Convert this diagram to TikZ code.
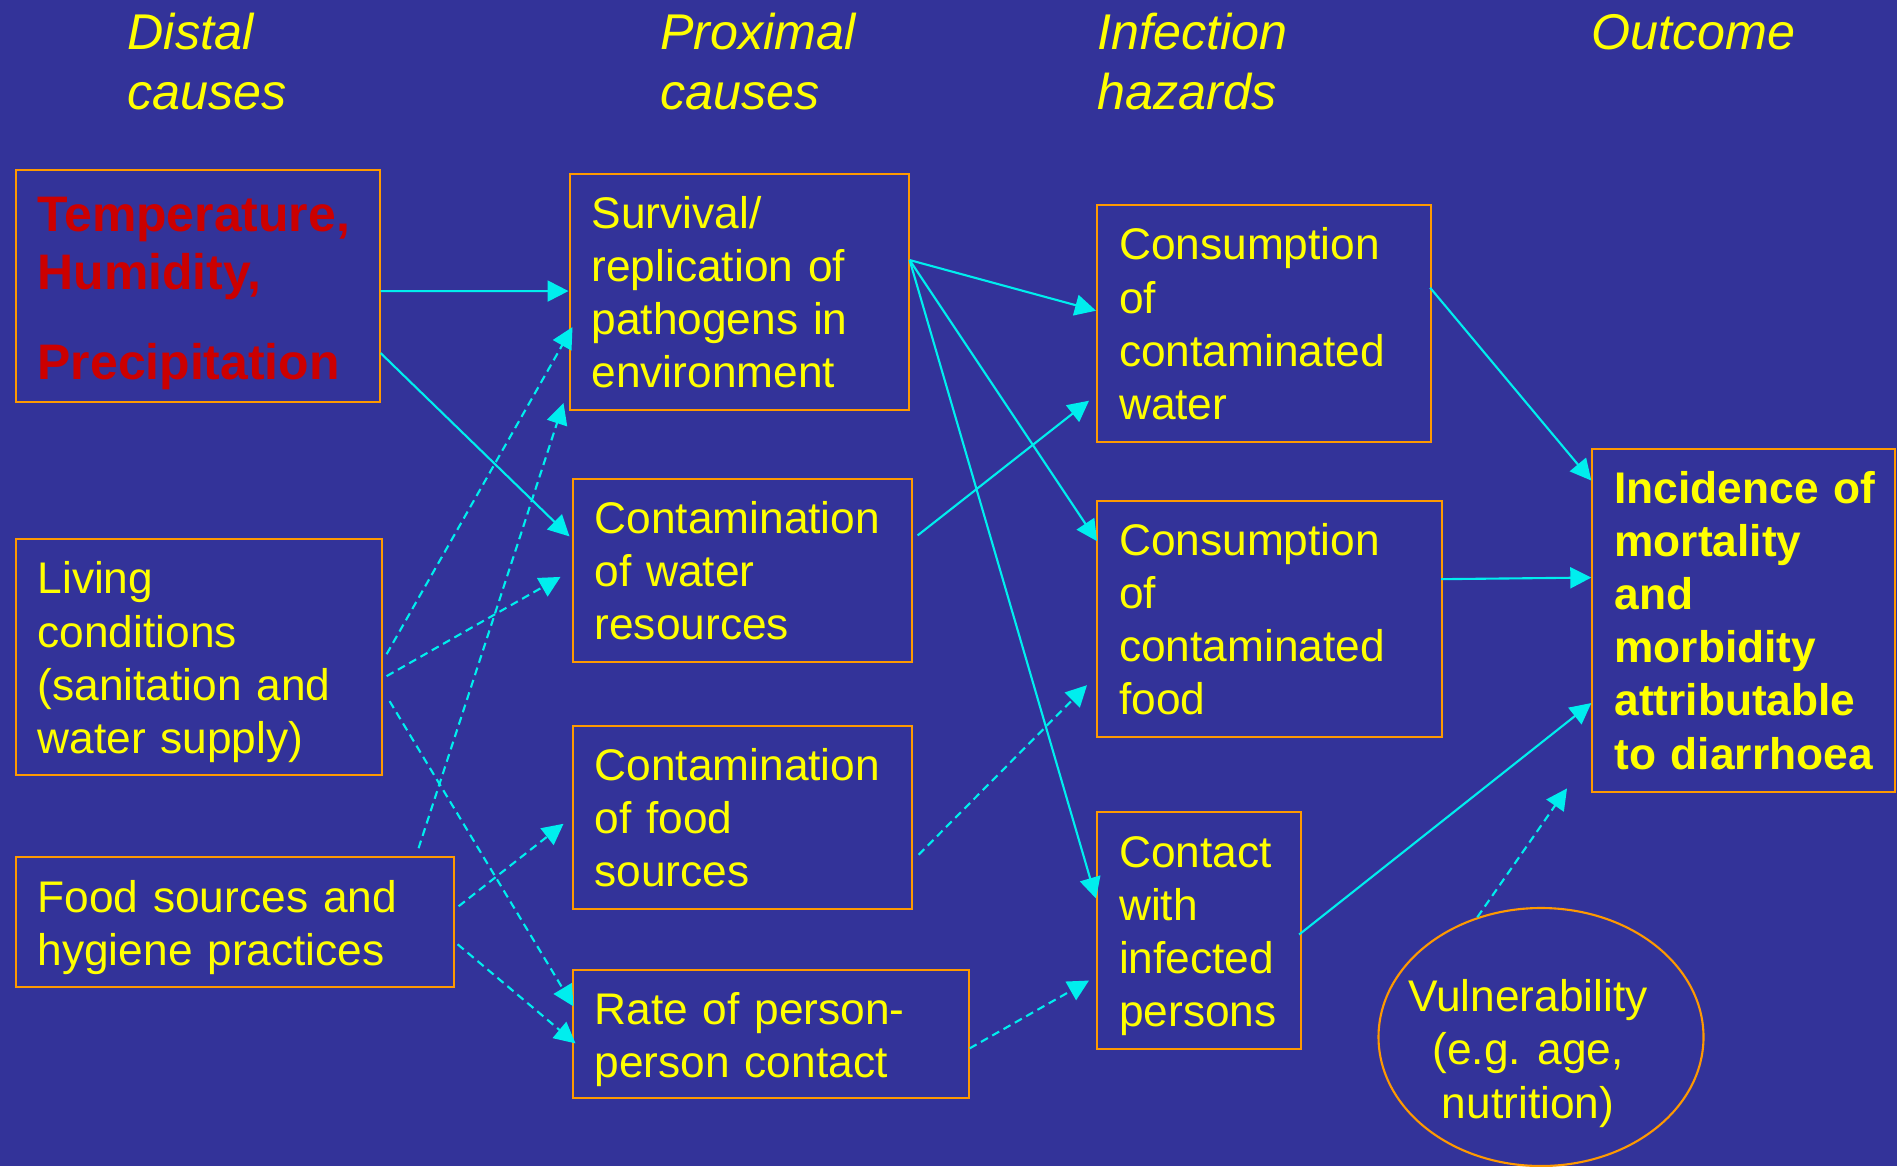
\documentclass[tikz,border=0pt]{standalone}
\usepackage{fontspec}
\setmainfont{Liberation Sans}
\usepackage{tikz}
\usetikzlibrary{shapes.geometric,positioning,arrows.meta}
\definecolor{bgblue}{RGB}{51,51,153}
\definecolor{boxorange}{RGB}{255,153,0}
\definecolor{linecyan}{RGB}{0,238,238}
\definecolor{txtyellow}{RGB}{255,255,0}
\definecolor{txtred}{RGB}{204,0,0}
\newcommand{\firstline}{\rule{0pt}{0.42cm}}
\tikzset{
 b/.style
  = {rectangle, draw=boxorange, line width=0.6pt, inner xsep=0.22cm, inner ysep=0pt,
     align=left, text=txtyellow, font=\fontsize{12.6pt}{15.1pt}\selectfont},
 bb/.style
  = {b, font=\fontsize{12.6pt}{15.1pt}\selectfont\bfseries},
 hd/.style
  = {anchor=base west, inner sep=0pt, align=left, text=txtyellow,
     font=\fontsize{14.3pt}{17pt}\selectfont\itshape},
 o/.style
  = {ellipse, draw=boxorange, line width=0.6pt, minimum width=3.25cm,
     minimum height=2.58cm, inner sep=0pt},
 ot/.style
  = {align=center, inner sep=0pt, text=txtyellow, font=\fontsize{12.6pt}{15.1pt}\selectfont},
 l/.style
  = {draw=linecyan, line width=0.6pt, -{Triangle[length=0.21cm,width=0.21cm]}},
 ll/.style
  = {l, dash pattern=on 0.08cm off 0.05cm},
}
\begin{document}
\begin{tikzpicture}
    \fill [bgblue] (0,0) rectangle (18.97,-11.66);
    \useasboundingbox (0,0) rectangle (18.97,-11.66);

    \node [hd] (distal) at (1.27,-1.09) {Distal\\causes};
    \node [hd] (proximal) at (6.593,-1.09) {Proximal\\causes};
    \node [hd] (infection) at (10.97,-1.09) {Infection\\hazards};
    \node [hd] (outcome) at (15.91,-0.493) {Outcome};

    \node [bb, text=txtred, font=\fontsize{14.2pt}{16.6pt}\selectfont\bfseries, text width=3.2cm,
           minimum height=2.32cm, anchor=north west] (temp) at (0.145,-1.69)
          {\rule{0pt}{0.49cm}Temperature,\\Humidity,\\[0.32cm]Precipitation};
    \node [b, text width=3.22cm, minimum height=2.36cm, below=1.35cm of temp.south west,
           anchor=north west] (living) {\firstline Living\\conditions\\(sanitation and\\water supply)};
    \node [b, text width=3.94cm, minimum height=1.30cm, below=0.80cm of living.south west,
           anchor=north west] (foodsrc) {\firstline Food sources and\\hygiene practices};

    \node [b, text width=2.95cm, minimum height=2.36cm, anchor=north west] (survival)
          at (5.685,-1.73) {Survival/\\replication of\\pathogens in\\environment};
    \node [b, text width=2.95cm, minimum height=1.825cm, below=0.67cm of survival.south west,
           anchor=north west, xshift=0.03cm] (contwater) {Contamination\\of water\\resources};
    \node [b, text width=2.95cm, minimum height=1.83cm, below=0.62cm of contwater.south west,
           anchor=north west] (contfood) {Contamination\\of food\\sources};
    \node [b, text width=3.52cm, minimum height=1.28cm, below=0.595cm of contfood.south west,
           anchor=north west] (rate) {\firstline Rate of person-\\person contact};

    \node [b, text width=2.90cm, minimum height=2.367cm, anchor=north west] (conswater)
          at (10.96,-2.043) {Consumption\\of\\contaminated\\water};
    \node [b, text width=3.01cm, minimum height=2.36cm, below=0.57cm of conswater.south west,
           anchor=north west] (consfood) {Consumption\\of\\contaminated\\food};
    \node [b, text width=1.60cm, minimum height=2.365cm, below=0.73cm of consfood.south west,
           anchor=north west] (contact) {\firstline Contact\\with\\infected\\persons};

    \node [bb, text width=2.59cm, minimum height=3.43cm, anchor=north west] (incidence)
          at (15.913,-4.48)
          {\mbox{Incidence of}\\mortality\\and\\morbidity\\attributable\\\mbox{to diarrhoea}};

    \node [o] (vuln) at (15.41,-10.37) {};
    \node [ot] (vulntext) at ([xshift=-0.13cm,yshift=-0.165cm]vuln.center)
          {Vulnerability\\(e.g. age,\\nutrition)};
    \coordinate (vulntip) at (15.67,-7.884);

    \path [l] ([yshift=-0.05cm]temp.east) -- ([yshift=0.01cm]survival.west);
    \path [l] ([yshift=-0.67cm]temp.east) -- ([xshift=-0.02cm,yshift=0.34cm]contwater.west);
    \path [ll] ([xshift=0.04cm,yshift=0.03cm]living.east) -- ([xshift=0.04cm,yshift=-0.35cm]survival.west);
    \path [ll] ([xshift=1.84cm,yshift=0.08cm]foodsrc.north) -- ([xshift=-0.05cm,yshift=0.08cm]survival.south west);
    \path [ll] ([xshift=0.04cm,yshift=-0.19cm]living.east) -- ([xshift=-0.11cm,yshift=-0.065cm]contwater.west);
    \path [ll] ([xshift=0.07cm,yshift=-0.44cm]living.east) -- ([xshift=0.02cm,yshift=0.28cm]rate.west);
    \path [ll] ([xshift=0.04cm,yshift=0.16cm]foodsrc.east) -- ([xshift=-0.08cm,yshift=-0.065cm]contfood.west);
    \path [ll] ([xshift=0.03cm,yshift=-0.22cm]foodsrc.east) -- ([xshift=0.04cm,yshift=-0.09cm]rate.west);
    \path [l] ([yshift=0.32cm]survival.east) -- ([yshift=0.13cm]conswater.west);
    \path [l] ([yshift=0.32cm]survival.east) -- ([xshift=0.01cm,yshift=0.78cm]consfood.west);
    \path [l] ([yshift=0.32cm]survival.east) -- ([yshift=0.32cm]contact.west);
    \path [l] ([xshift=0.05cm,yshift=0.35cm]contwater.east) -- ([xshift=-0.07cm,yshift=-0.77cm]conswater.west);
    \path [ll] ([xshift=0.06cm,yshift=-0.375cm]contfood.east) -- ([xshift=-0.09cm,yshift=-0.66cm]consfood.west);
    \path [ll] ([yshift=-0.14cm]rate.east) -- ([xshift=-0.07cm,yshift=-0.5cm]contact.west);
    \path [l] ([xshift=-0.02cm,yshift=0.36cm]conswater.east) -- ([yshift=1.40cm]incidence.west);
    \path [l] ([xshift=-0.02cm,yshift=0.40cm]consfood.east) -- ([yshift=0.43cm]incidence.west);
    \path [l] ([xshift=-0.03cm,yshift=-0.04cm]contact.east) -- ([yshift=-0.825cm]incidence.west);
    \path [ll] (vuln.118) -- (vulntip);
\end{tikzpicture}
\end{document}
